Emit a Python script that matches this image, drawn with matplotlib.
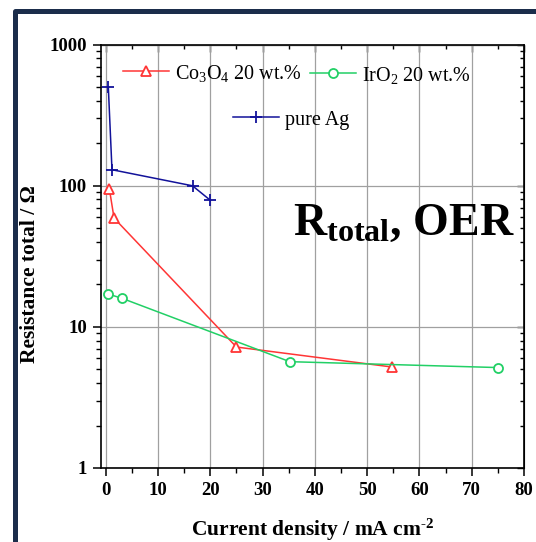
import numpy as np
import matplotlib
matplotlib.use("Agg")
import matplotlib.pyplot as plt
from matplotlib.patches import Rectangle
from matplotlib.ticker import MultipleLocator, LogLocator, NullFormatter

plt.rcParams['font.family'] = ['Liberation Serif', 'DejaVu Serif']
plt.rcParams['mathtext.fontset'] = 'custom'
plt.rcParams['mathtext.rm'] = 'Liberation Serif'
plt.rcParams['mathtext.it'] = 'Liberation Serif:italic'
plt.rcParams['mathtext.bf'] = 'Liberation Serif:bold'

# data
co3o4_j = [0.7, 1.6, 25.0, 54.7]
co3o4_r = [95, 59, 7.2, 5.2]
iro2_j = [0.5, 3.2, 35.2, 75.0]
iro2_r = [17.1, 15.9, 5.67, 5.15]
ag_j = [0.5, 1.2, 16.6, 20.0]
ag_r = [500, 130, 100, 79]

xticks = [0, 10, 20, 30, 40, 50, 60, 70, 80]
yticks = [1, 10, 100, 1000]
ytick_labels = ['1', '10', '100', '1000']

red = '#ff3535'
green = '#22d066'
blue = '#12129a'

fig = plt.figure(figsize=(5.36, 5.42), dpi=100)
ax = fig.add_axes([101/536, 1-468/542, 423/536, 423.3/542])

ax.grid(True, which='major', color='#a0a0a0', lw=0.9)
ax.set_axisbelow(True)

l1, = ax.plot(co3o4_j, co3o4_r, color=red, lw=1.1, marker='^', ms=7.5,
              mfc='white', mec=red, mew=1.3)
l2, = ax.plot(iro2_j, iro2_r, color=green, lw=1.1, marker='o', ms=6.5,
              mfc='white', mec=green, mew=1.3)
l3, = ax.plot(ag_j, ag_r, color=blue, lw=1.1, marker='+', ms=9,
              mec=blue, mew=1.3)

ax.set_yscale('log')
ax.set_xlim(-0.9, 80)
ax.set_ylim(1, 1000)
ax.set_xticks(xticks)
ax.xaxis.set_minor_locator(MultipleLocator(5))
ax.set_yticks(yticks)
ax.set_yticklabels(ytick_labels)
ax.yaxis.set_minor_locator(LogLocator(base=10, subs=np.arange(2, 10)))
ax.yaxis.set_minor_formatter(NullFormatter())

for s in ax.spines.values():
    s.set_linewidth(1.2)

ax.tick_params(which='major', direction='out', length=6, width=1.1,
               labelsize=13.5, pad=4)
ax.tick_params(which='minor', direction='out', length=3.5, width=1.0)
for lab in ax.get_xticklabels() + ax.get_yticklabels():
    lab.set_fontweight('bold')

# mirrored inner ticks on top and right
axt = ax.secondary_xaxis('top')
axt.set_xticks(xticks)
axt.xaxis.set_minor_locator(MultipleLocator(5))
axt.tick_params(which='major', direction='in', length=5, width=1.0, labeltop=False)
axt.tick_params(which='minor', direction='in', length=3, width=1.0)
axr = ax.secondary_yaxis('right')
axr.set_yticks(yticks)
axr.yaxis.set_minor_locator(LogLocator(base=10, subs=np.arange(2, 10)))
axr.yaxis.set_minor_formatter(NullFormatter())
axr.tick_params(which='major', direction='in', length=5, width=1.0, labelright=False)
axr.tick_params(which='minor', direction='in', length=3, width=1.0)

ax.set_xlabel('Current density / mA cm$^\\mathbf{\u20102}$', fontsize=15.5,
              fontweight='bold', labelpad=13)
fig.text(30/536, 1-274/542, 'Resistance total / Ω', rotation=90,
         fontsize=15.5, fontweight='bold', ha='center', va='center')

leg_kw = dict(frameon=False, fontsize=14.5, borderpad=0, borderaxespad=0,
              handlelength=2.3, handletextpad=0.3, loc='center left')
leg1 = ax.legend([l1], [r'Co$_3$O$_4$ 20 wt.%'],
                 bbox_to_anchor=((123-101)/423, (468-73)/423.3), **leg_kw)
ax.add_artist(leg1)
leg2 = ax.legend([l2], [r'IrO$_2$ 20 wt.%'],
                 bbox_to_anchor=((310-101)/423, (468-75)/423.3), **leg_kw)
ax.add_artist(leg2)
ax.legend([l3], ['pure Ag'],
          bbox_to_anchor=((233-101)/423, (468-120)/423.3), **leg_kw)

ax.text((293-101)/423, (468-235)/423.3, r'R$_\mathbf{total}$, OER',
        transform=ax.transAxes, fontsize=33, fontweight='bold',
        ha='left', va='baseline')

fig.add_artist(Rectangle((14.8/536, -0.1), 2, 1-10.8/542+0.1,
                         transform=fig.transFigure, fill=False,
                         edgecolor='#1b2d4b', lw=3.6, joinstyle='round'))

fig.savefig('out.png', dpi=100)
